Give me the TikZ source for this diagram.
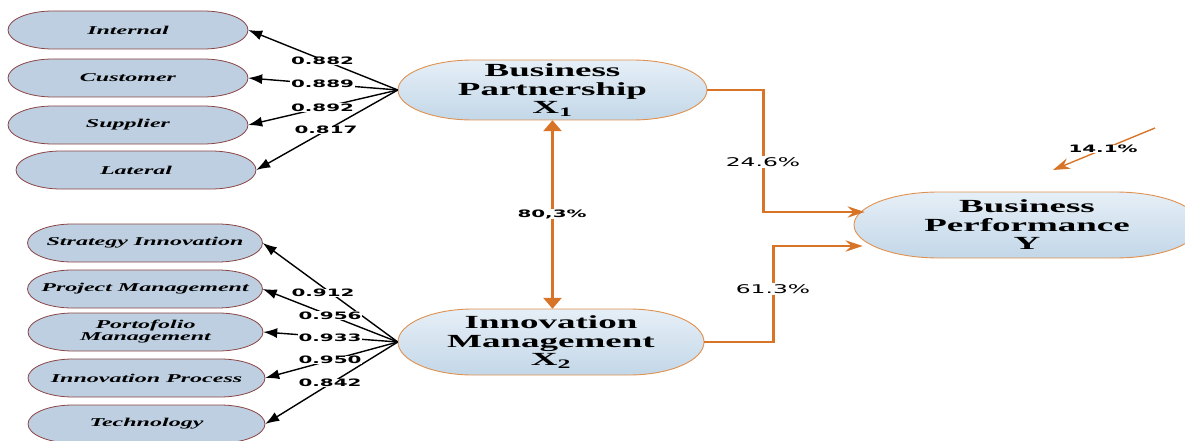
\documentclass[tikz,border=0pt]{standalone}
\usepackage{fontspec}
\setmainfont{Liberation Serif}[FakeStretch=2]
\newfontfamily\lblfont{DejaVu Sans}[FakeStretch=1.95]
\usetikzlibrary{arrows.meta,calc}
\definecolor{ovfill}{HTML}{BDCFE1}
\definecolor{ovline}{HTML}{8B4545}
\definecolor{orangeline}{HTML}{D87428}
\definecolor{mainline}{HTML}{E0914F}
\definecolor{maintop}{HTML}{E6EFF7}
\definecolor{mainbot}{HTML}{C3D7E8}
% #1 name, #2 x, #3 y, #4 width, #5 height, #6 end x-radius, #7 outline style, #8 node style, #9 text
\newcommand\ovnode[9]{%
  \path[#7] (#2-#4/2+#6, #3+#5/2) -- (#2+#4/2-#6, #3+#5/2)
    arc[start angle=90, end angle=-90, x radius=#6pt, y radius={#5/2*1pt}]
    -- (#2-#4/2+#6, #3-#5/2)
    arc[start angle=270, end angle=90, x radius=#6pt, y radius={#5/2*1pt}] -- cycle;
  \node[#8, minimum width=#4pt, minimum height=#5pt] (#1) at (#2,#3) {#9};}
\tikzset{
  smallov/.style={draw=ovline, line width=0.8pt, fill=ovfill},
  mainov/.style={draw=mainline, line width=0.9pt, top color=maintop, bottom color=mainbot},
  smalltxt/.style={rectangle, inner sep=0pt, align=center,
    font=\fontsize{12}{12}\selectfont\bfseries\itshape},
  maintxt/.style={rectangle, inner sep=0pt, align=center,
    font=\fontsize{18.5}{18.5}\selectfont\bfseries},
  lbl/.style={fill=white, inner sep=0.6pt, font=\lblfont\fontsize{10.2}{10}\selectfont\bfseries},
  pct/.style={fill=white, inner sep=1pt, font=\lblfont\fontsize{12}{12}\selectfont},
  blk/.style={draw=black, line width=1.4pt, -{Latex[length=14pt,width=10pt]}},
  org/.style={draw=orangeline, line width=2.8pt, -{Stealth[length=17pt,width=11pt]}},
  orgdbl/.style={draw=orangeline, line width=3pt,
    {Triangle[width=18pt,length=11pt]}-{Triangle[width=18pt,length=11pt]}},
  orgthin/.style={draw=orangeline, line width=1.4pt, -{Stealth[length=17pt,width=11pt]}},
}
\begin{document}
\begin{tikzpicture}[x=1pt,y=1pt]
\useasboundingbox (0,0) rectangle (1185,-441);
\clip (0,0) rectangle (1185,-441);
% indicator ovals
\ovnode{int}{128}{-30}{240}{38}{45}{smallov}{smalltxt}{Internal}
\ovnode{cus}{128}{-78}{240}{38}{45}{smallov}{smalltxt}{Customer}
\ovnode{sup}{128}{-125}{240}{38}{45}{smallov}{smalltxt}{Supplier}
\ovnode{lat}{136}{-170}{240}{38}{45}{smallov}{smalltxt}{Lateral}
\ovnode{si}{145}{-243}{235}{38}{45}{smallov}{smalltxt}{Strategy Innovation}
\ovnode{pm}{145}{-289}{235}{38}{45}{smallov}{smalltxt}{Project Management}
\ovnode{pf}{145.5}{-332}{235}{38}{45}{smallov}{smalltxt}{Portofolio\\Management}
\ovnode{ip}{146.5}{-378}{237}{38}{45}{smallov}{smalltxt}{Innovation Process}
\ovnode{tec}{146.5}{-424}{237}{38}{45}{smallov}{smalltxt}{Technology}
% latent ovals
\ovnode{BP}{552.5}{-90}{309}{60}{75}{mainov}{maintxt}{Business\\Partnership\\X\textsubscript{1}}
\ovnode{IM}{551}{-342}{306}{66}{75}{mainov}{maintxt}{Innovation\\Management\\X\textsubscript{2}}
\ovnode{BPerf}{1027}{-225}{346}{66}{85}{mainov}{maintxt}{Business\\Performance\\Y}
% loadings
\foreach \t in {int,cus,sup,lat} \draw[blk] (BP.west) -- (\t.east);
\foreach \t in {si,pm,pf,ip,tec} \draw[blk] (IM.west) -- (\t.east);
\node[lbl] (l1) at (322.5,-61) {0.882};
\node[lbl] (l2) at (322.5,-84) {0.889};
\node[lbl] (l3) at (322.5,-107.5) {0.892};
\node[lbl] (l4) at (326,-130) {0.817};
\node[lbl] (l5) at (323,-293) {0.912};
\node[lbl] (l6) at (330,-315.5) {0.956};
\node[lbl] (l7) at (330,-337.5) {0.933};
\node[lbl] (l8) at (330,-360) {0.950};
\node[lbl] (l9) at (330,-383) {0.842};
% structural paths
\draw[org] (BP.east) -- ++(56,0) |- ($(BPerf.west)+(11,13)$);
\draw[org] (IM.east) -- ++(69,0) |- ($(BPerf.west)+(9,-21)$);
\node[pct] (p1) at (763,-162) {24.6\%};
\node[pct] (p2) at (773,-289) {61.3\%};
\draw[orgdbl] (BP.south) -- (BP.south |- IM.north);
\node[lbl] (p3) at (552,-214) {80,3\%};
% error term
\coordinate (eS) at (1155,-128);
\coordinate (eE) at (1053,-170);
\draw[orgthin] (eS) -- (eE);
\node[lbl] (p4) at (1103,-149) {14.1\%};
\end{tikzpicture}
\end{document}
